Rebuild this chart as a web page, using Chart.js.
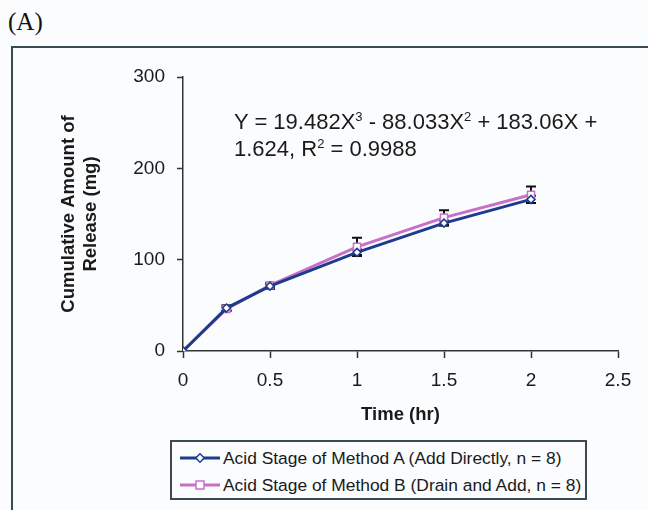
<!DOCTYPE html>
<html>
<head>
<meta charset="utf-8">
<script src="https://cdn.jsdelivr.net/npm/chart.js@4/dist/chart.umd.min.js"></script>
<style>
  html, body { margin: 0; padding: 0; background: #fbfcfe; }
  #wrap { position: relative; width: 648px; height: 510px; overflow: hidden; background: #fbfcfe; font-family: "Liberation Sans", Arial, sans-serif; color: #1a1a1a; }
  #frame { position: absolute; left: 11px; top: 46px; width: 700px; height: 600px; border: 2px solid #3b4a50; box-sizing: border-box; }
  #panel { position: absolute; left: 8px; top: 8px; font-family: "Liberation Serif", "Times New Roman", serif; font-size: 25px; color: #111; }
  #cv { position: absolute; left: 0; top: 0; }
  #eq { position: absolute; left: 234px; top: 108px; font-size: 22px; line-height: 27px; color: #1a1a1a; white-space: nowrap; }
  #eq sup { font-size: 13px; line-height: 0; vertical-align: 8px; }
  #legend { position: absolute; left: 170px; top: 440px; width: 417px; height: 60px; border: 2px solid #3b4a50; box-sizing: border-box; font-size: 17.4px; color: #1a1a1a; }
  .row { position: absolute; left: 8px; height: 24px; display: flex; align-items: center; white-space: nowrap; }
  .row svg { margin-right: 3px; }
</style>
</head>
<body>
<div id="wrap">
  <div id="frame"></div>
  <div id="panel">(A)</div>
  <canvas id="cv" width="648" height="426"></canvas>
  <div id="eq">Y = 19.482X<sup>3</sup> - 88.033X<sup>2</sup> + 183.06X +<br>1.624, R<sup>2</sup> = 0.9988</div>
  <div id="legend">
    <div class="row" style="top:4px"><svg width="40" height="12"><line x1="0" y1="6" x2="40" y2="6" stroke="#1f3c8c" stroke-width="3"/><rect x="17" y="3" width="6" height="6" fill="#fff" stroke="#1f3c8c" stroke-width="1.5" transform="rotate(45 20 6)"/></svg><span id="l0"></span></div>
    <div class="row" style="top:31px"><svg width="40" height="12"><line x1="0" y1="6" x2="40" y2="6" stroke="#c870c8" stroke-width="3"/><rect x="16" y="2" width="8" height="8" fill="#fff" stroke="#c870c8" stroke-width="1.5"/></svg><span id="l1"></span></div>
  </div>
</div>
<script>
// ---- data ----
const times = [0, 0.25, 0.5, 1, 1.5, 2];
const methodA = [0, 47, 71, 108, 140, 166];
const methodAErr = [0, 3, 3, 3, 3, 4];
const methodB = [0, 46, 72, 114, 146, 171];
const methodBErr = [0, 2, 2, 10, 8, 9];
const seriesNames = ["Acid Stage of Method A (Add Directly, n = 8)", "Acid Stage of Method B (Drain and Add, n = 8)"];
const xTicks = [0, 0.5, 1, 1.5, 2, 2.5];
const yTicks = [0, 100, 200, 300];
const xTitle = "Time (hr)";
const yTitle = ["Cumulative Amount of", "Release (mg)"];

document.getElementById('l0').textContent = seriesNames[0];
document.getElementById('l1').textContent = seriesNames[1];

const errorBars = {
  id: 'errorBars',
  beforeDatasetsDraw(chart) {
    const ctx = chart.ctx;
    const ys = chart.scales.y, xs = chart.scales.x;
    ctx.save();
    ctx.strokeStyle = '#111';
    ctx.lineWidth = 2;
    chart.data.datasets.forEach(ds => {
      (ds.err || []).forEach((e, i) => {
        if (!e) return;
        const p = ds.data[i];
        const px = xs.getPixelForValue(p.x);
        const top = ys.getPixelForValue(p.y + e);
        const bot = ys.getPixelForValue(p.y - e);
        ctx.beginPath();
        ctx.moveTo(px, top); ctx.lineTo(px, bot);
        ctx.moveTo(px - 5, top); ctx.lineTo(px + 5, top);
        ctx.moveTo(px - 5, bot); ctx.lineTo(px + 5, bot);
        ctx.stroke();
      });
    });
    ctx.restore();
  }
};

const tickFont = { family: '"Liberation Sans", Arial, sans-serif', size: 19 };
const titleFont = { family: '"Liberation Sans", Arial, sans-serif', size: 18.5, weight: 'bold' };

new Chart(document.getElementById('cv'), {
  type: 'line',
  data: {
    datasets: [
      {
        label: seriesNames[0],
        data: times.map((t, i) => ({ x: t, y: methodA[i] })),
        err: methodAErr,
        borderColor: '#1f3c8c', backgroundColor: '#ffffff',
        borderWidth: 3, pointStyle: 'rectRot', pointRadius: 4,
        pointBorderWidth: 1.5, pointBorderColor: '#1f3c8c', pointBackgroundColor: '#ffffff',
        tension: 0
      },
      {
        label: seriesNames[1],
        data: times.map((t, i) => ({ x: t, y: methodB[i] })),
        err: methodBErr,
        borderColor: '#c870c8', backgroundColor: '#ffffff',
        borderWidth: 3, pointStyle: 'rect', pointRadius: 5,
        pointBorderWidth: 1.5, pointBorderColor: '#c870c8', pointBackgroundColor: '#ffffff',
        tension: 0
      }
    ]
  },
  options: {
    responsive: false,
    animation: false,
    events: [],
    layout: { padding: { top: 77, right: 30, left: 0, bottom: 0 } },
    plugins: { legend: { display: false }, tooltip: { enabled: false } },
    scales: {
      x: {
        type: 'linear', min: 0, max: 2.5,
        afterBuildTicks: s => { s.ticks = xTicks.map(v => ({ value: v })); },
        afterFit: s => { s.height = 75; },
        grid: { drawOnChartArea: false, drawTicks: true, tickLength: 7, color: '#333', tickWidth: 1.5 },
        border: { display: true, color: '#333', width: 1.5 },
        ticks: { font: tickFont, color: '#1a1a1a', padding: 11, maxRotation: 0, callback: v => String(v) },
        title: { display: true, text: xTitle, font: titleFont, color: '#1a1a1a', padding: { top: 4, bottom: 0 } }
      },
      y: {
        type: 'linear', min: 0, max: 300,
        afterBuildTicks: s => { s.ticks = yTicks.map(v => ({ value: v })); },
        afterFit: s => { s.width = 183; },
        grid: { drawOnChartArea: false, drawTicks: true, tickLength: 6, color: '#333', tickWidth: 1.5 },
        border: { display: true, color: '#333', width: 1.5 },
        ticks: { font: tickFont, color: '#1a1a1a', padding: 12 },
        title: { display: true, text: yTitle, font: titleFont, color: '#1a1a1a', padding: { top: 58, bottom: 0 } }
      }
    }
  },
  plugins: [errorBars]
});
</script>
</body>
</html>
